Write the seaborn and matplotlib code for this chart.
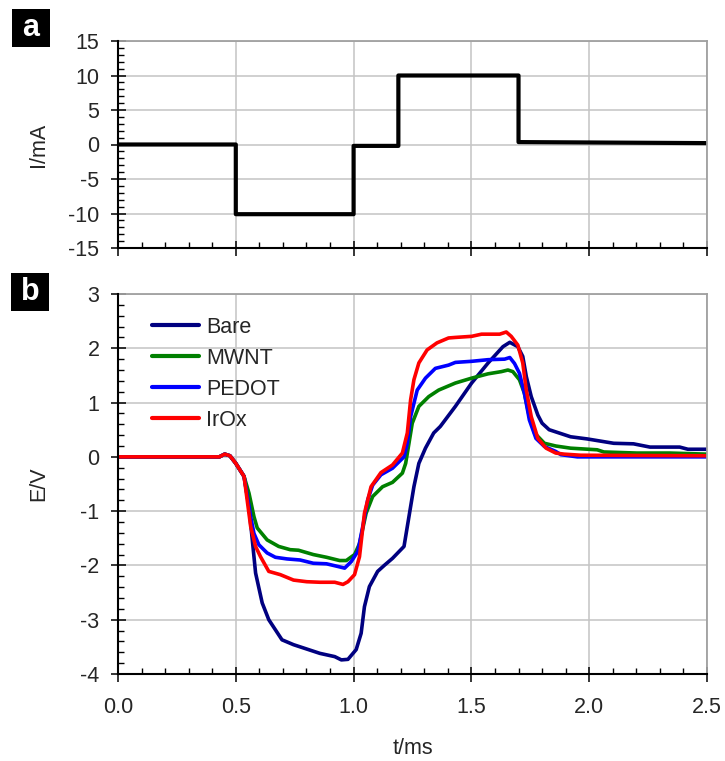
import matplotlib
matplotlib.use("Agg")
import numpy as np
import pandas as pd
import matplotlib.pyplot as plt
import seaborn as sns
from matplotlib.ticker import MultipleLocator, FormatStrFormatter
from matplotlib.patches import Rectangle
from matplotlib import font_manager as fm

# ---------------- data ----------------
t_current = [0.0, 0.5, 0.5, 1.0, 1.0, 1.19, 1.19, 1.70, 1.70, 2.5]
current = [0.0, 0.0, -10.1, -10.1, -0.2, -0.2, 10.0, 10.0, 0.35, 0.2]

t_bare = [0.0, 0.43, 0.453, 0.475, 0.50, 0.535, 0.556, 0.570, 0.584, 0.612, 0.640, 0.696,
          0.745, 0.801, 0.857, 0.920, 0.948, 0.976, 1.011, 1.032, 1.046, 1.067, 1.102, 1.13,
          1.165, 1.214, 1.235, 1.256, 1.277, 1.305, 1.340, 1.368, 1.432, 1.501, 1.571, 1.634,
          1.663, 1.697, 1.718, 1.733, 1.754, 1.782, 1.800, 1.830, 1.921, 1.992, 2.104, 2.188,
          2.258, 2.384, 2.419, 2.5]
e_bare = [0.0, 0.0, 0.05, 0.02, -0.12, -0.36, -0.92, -1.53, -2.14, -2.69, -3.0, -3.37,
          -3.46, -3.54, -3.62, -3.68, -3.74, -3.73, -3.55, -3.25, -2.76, -2.39, -2.11, -2.0,
          -1.87, -1.65, -1.10, -0.55, -0.12, 0.16, 0.44, 0.56, 0.93, 1.36, 1.73, 2.03,
          2.11, 2.03, 1.85, 1.48, 1.11, 0.77, 0.62, 0.50, 0.37, 0.33, 0.25, 0.24,
          0.18, 0.18, 0.14, 0.14]

t_mwnt = [0.0, 0.43, 0.453, 0.475, 0.50, 0.535, 0.556, 0.577, 0.591, 0.633, 0.682, 0.731,
          0.766, 0.829, 0.885, 0.941, 0.969, 1.004, 1.025, 1.053, 1.081, 1.123, 1.165, 1.207,
          1.221, 1.235, 1.249, 1.277, 1.319, 1.361, 1.432, 1.501, 1.571, 1.627, 1.655, 1.676,
          1.704, 1.725, 1.746, 1.768, 1.810, 1.858, 1.921, 2.034, 2.062, 2.202, 2.342, 2.5]
e_mwnt = [0.0, 0.0, 0.05, 0.02, -0.12, -0.36, -0.67, -1.10, -1.31, -1.53, -1.65, -1.71,
          -1.72, -1.80, -1.85, -1.91, -1.91, -1.80, -1.60, -1.04, -0.73, -0.55, -0.47, -0.30,
          -0.12, 0.25, 0.62, 0.93, 1.11, 1.23, 1.36, 1.45, 1.53, 1.57, 1.60, 1.57,
          1.42, 1.17, 0.74, 0.44, 0.25, 0.20, 0.16, 0.13, 0.09, 0.07, 0.07, 0.05]

t_pedot = [0.0, 0.43, 0.453, 0.475, 0.50, 0.535, 0.563, 0.577, 0.598, 0.633, 0.668, 0.717,
           0.773, 0.829, 0.885, 0.934, 0.962, 0.990, 1.018, 1.039, 1.060, 1.081, 1.116, 1.165,
           1.214, 1.228, 1.242, 1.270, 1.305, 1.347, 1.403, 1.432, 1.501, 1.571, 1.641, 1.663,
           1.683, 1.704, 1.725, 1.746, 1.774, 1.810, 1.858, 1.880, 1.950, 2.5]
e_pedot = [0.0, 0.0, 0.05, 0.02, -0.12, -0.36, -1.10, -1.41, -1.62, -1.77, -1.85, -1.88,
           -1.90, -1.96, -1.97, -2.02, -2.05, -1.93, -1.74, -1.28, -0.79, -0.52, -0.33, -0.21,
           0.0, 0.25, 0.74, 1.23, 1.45, 1.63, 1.69, 1.74, 1.76, 1.79, 1.80, 1.83,
           1.72, 1.54, 1.17, 0.68, 0.34, 0.19, 0.10, 0.04, 0.0, 0.0]

t_irox = [0.0, 0.43, 0.453, 0.475, 0.50, 0.535, 0.563, 0.584, 0.605, 0.640, 0.689, 0.745,
          0.801, 0.857, 0.920, 0.955, 0.976, 1.004, 1.025, 1.046, 1.074, 1.116, 1.165, 1.207,
          1.228, 1.242, 1.256, 1.277, 1.312, 1.354, 1.403, 1.432, 1.501, 1.543, 1.620, 1.648,
          1.669, 1.697, 1.718, 1.733, 1.754, 1.782, 1.817, 1.858, 1.894, 1.964, 2.5]
e_irox = [0.0, 0.0, 0.05, 0.02, -0.12, -0.36, -1.28, -1.65, -1.84, -2.11, -2.17, -2.27,
          -2.30, -2.31, -2.31, -2.35, -2.30, -2.17, -1.84, -1.04, -0.55, -0.29, -0.15, 0.07,
          0.44, 1.05, 1.42, 1.73, 1.97, 2.10, 2.19, 2.20, 2.22, 2.26, 2.26, 2.30,
          2.22, 2.06, 1.73, 1.23, 0.74, 0.34, 0.16, 0.07, 0.05, 0.03, 0.02]

series_names = ["Bare", "MWNT", "PEDOT", "IrOx"]
series_colors = ["#000080", "#008000", "#0000FF", "#FF0000"]

x_ticks_fmt = "%.1f"

# ---------------- style ----------------
sns.set_style("white")
names = {f.name for f in fm.fontManager.ttflist}
if "Liberation Sans Narrow" in names:
    fam, fs = "Liberation Sans Narrow", 17
else:
    fam, fs = "Liberation Sans", 15.5
plt.rcParams["font.family"] = [fam, "DejaVu Sans"]
plt.rcParams["axes.unicode_minus"] = False

W, H = 725, 761
fig = plt.figure(figsize=(W / 100, H / 100), dpi=100)
ax1 = fig.add_axes([118 / W, 1 - 248 / H, 589 / W, 207 / H])
ax2 = fig.add_axes([118 / W, 1 - 674 / H, 589 / W, 380 / H])

df_i = pd.DataFrame({"t": t_current, "I": current})
sns.lineplot(data=df_i, x="t", y="I", ax=ax1, color="black", lw=3.0,
             estimator=None, sort=False)

frames = []
for nm, tt, ee in zip(series_names, [t_bare, t_mwnt, t_pedot, t_irox],
                      [e_bare, e_mwnt, e_pedot, e_irox]):
    frames.append(pd.DataFrame({"t": tt, "E": ee, "series": nm}))
df_e = pd.concat(frames, ignore_index=True)
sns.lineplot(data=df_e, x="t", y="E", hue="series", hue_order=series_names,
             palette=dict(zip(series_names, series_colors)), estimator=None,
             sort=False, lw=2.6, ax=ax2)


def style(ax, ylo, yhi, ymaj, ymin):
    ax.set_xlim(0, 2.5)
    ax.set_ylim(ylo, yhi)
    ax.xaxis.set_major_locator(MultipleLocator(0.5))
    ax.xaxis.set_minor_locator(MultipleLocator(0.1))
    ax.yaxis.set_major_locator(MultipleLocator(ymaj))
    ax.yaxis.set_minor_locator(MultipleLocator(ymin))
    ax.xaxis.set_major_formatter(FormatStrFormatter(x_ticks_fmt))
    ax.grid(True, which="major", color="#c4c4c4", lw=1.1)
    ax.grid(False, which="minor")
    ax.set_axisbelow(True)
    for s in ["left", "bottom"]:
        ax.spines[s].set_color("black")
        ax.spines[s].set_linewidth(1.5)
        ax.spines[s].set_zorder(3)
    for s in ["top", "right"]:
        ax.spines[s].set_color("#a0a0a0")
        ax.spines[s].set_linewidth(1.3)
    ax.tick_params(which="major", direction="inout", length=10.8, width=1.1,
                   bottom=True, left=True, top=False, right=False,
                   labelsize=fs, color="black")
    ax.tick_params(which="minor", direction="in", length=4.5, width=1.0,
                   bottom=True, left=True, top=False, right=False, color="black")
    ax.tick_params(axis="y", which="major", pad=8)
    ax.tick_params(axis="x", which="major", pad=11)


style(ax1, -15, 15, 5, 1)
style(ax2, -4, 3, 1, 0.2)
ax1.tick_params(axis="x", labelbottom=False)
ax1.set_xlabel("")
ax1.set_ylabel("I/mA", fontsize=fs)
ax2.set_ylabel("E/V", fontsize=fs)
ax2.set_xlabel("t/ms", fontsize=fs)
ax1.yaxis.set_label_coords(-69 / 589, 0.5)
ax2.yaxis.set_label_coords(-69 / 589, 0.5)
ax2.xaxis.set_label_coords(0.5, -64 / 380)

h, l = ax2.get_legend_handles_labels()
leg = ax2.legend(h, l, loc="upper left", bbox_to_anchor=(34 / 589, 0.94),
                 frameon=False, fontsize=fs, borderpad=0, borderaxespad=0,
                 handlelength=2.2, handletextpad=0.3, labelspacing=0.46)
for ln in leg.get_lines():
    ln.set_linewidth(3.0)

for x0, y0, letter in [(12, 9, "a"), (11, 273, "b")]:
    fig.add_artist(Rectangle((x0 / W, 1 - (y0 + 38) / H), 38 / W, 38 / H,
                             transform=fig.transFigure, facecolor="black",
                             edgecolor="none"))
    fig.text((x0 + 19) / W, 1 - (y0 + 19) / H, letter, color="white", fontsize=22,
             fontweight="bold", ha="center", va="center",
             family=["Liberation Sans", "DejaVu Sans"])

fig.savefig("out.png", dpi=100)
